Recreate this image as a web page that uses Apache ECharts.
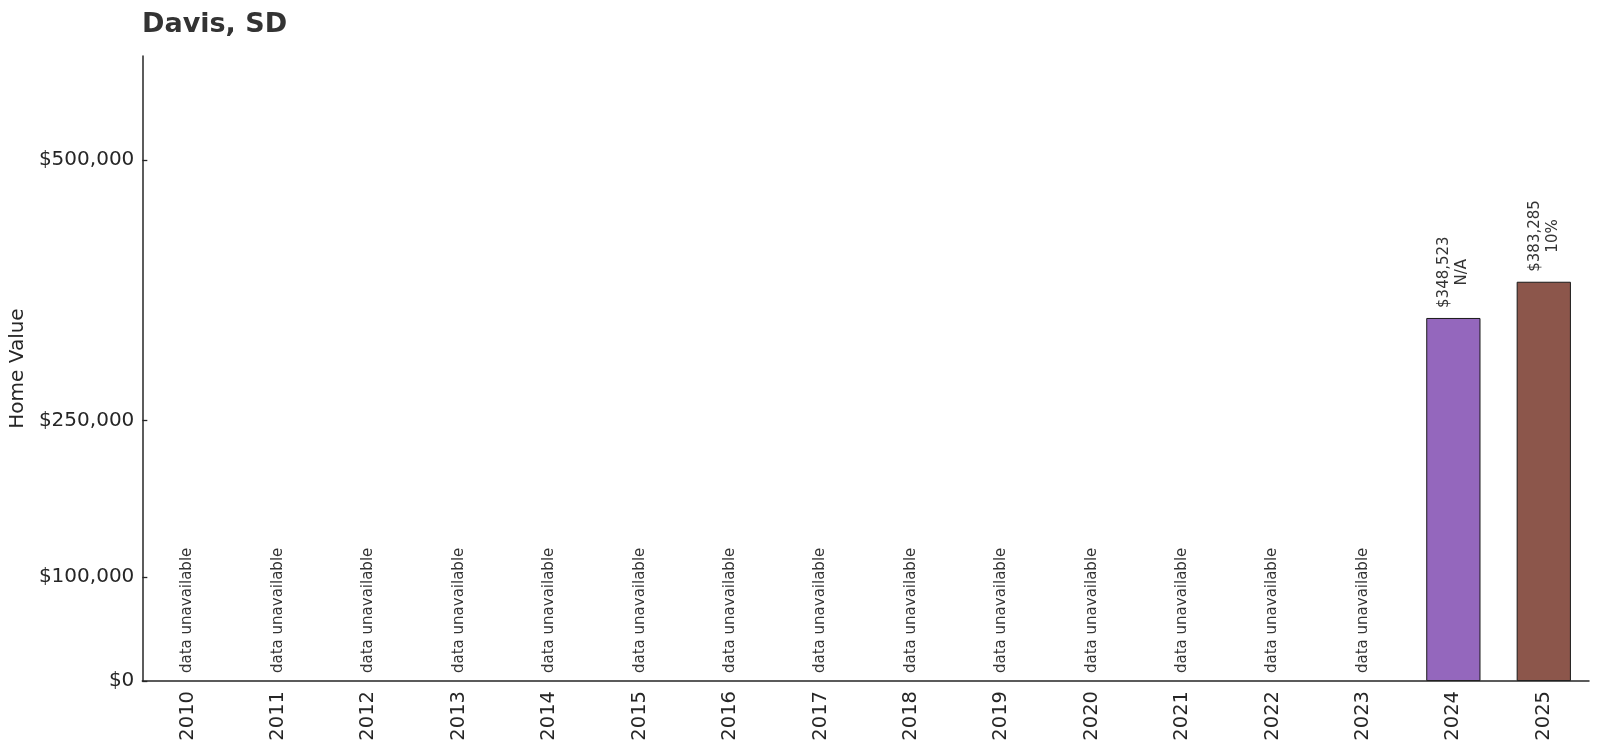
<!DOCTYPE html>
<html>
<head>
<meta charset="utf-8">
<script src="https://cdn.jsdelivr.net/npm/echarts@6/dist/echarts.min.js"></script>
<style>
  html, body { margin: 0; padding: 0; background: #fff; }
  #chart { width: 1600px; height: 750px; }
</style>
</head>
<body>
<div id="chart"></div>
<script>
// ── data ──
const years = ['2010', '2011', '2012', '2013', '2014', '2015', '2016', '2017',
  '2018', '2019', '2020', '2021', '2022', '2023', '2024', '2025'];
const homeValues = [null, null, null, null, null, null, null, null,
  null, null, null, null, null, null, 348523, 383285];
const changeLabels = [null, null, null, null, null, null, null, null,
  null, null, null, null, null, null, 'N/A', '10%'];
const barColors = [null, null, null, null, null, null, null, null,
  null, null, null, null, null, null, '#9467bd', '#8c564b'];
const yTicks = [0, 100000, 250000, 500000];

const FONT = 'DejaVu Sans';
const TEXT = '#262626';
const LABEL_SIZE = 15;

const money = v => '$' + v.toLocaleString('en-US');

// measure label width so the rotated, centred block sits just above the bar
const ctx = document.createElement('canvas').getContext('2d');
ctx.font = LABEL_SIZE + 'px "' + FONT + '"';
const textW = s => ctx.measureText(s).width;

const valueData = homeValues.map((v, i) => {
  if (v == null) return null;
  const lines = [money(v), changeLabels[i]];
  const w = Math.max(...lines.map(textW));
  return {
    value: v,
    itemStyle: { color: barColors[i] },
    label: { distance: 10 + w / 2 }
  };
});
const missingData = homeValues.map(v => v == null ? 0 : null);

const chart = echarts.init(document.getElementById('chart'));
chart.setOption({
  animation: false,
  title: {
    text: 'Davis, SD', left: 137, top: 6,
    textStyle: { fontFamily: FONT, fontSize: 27, fontWeight: 'bold', color: '#333' }
  },
  grid: { left: 141, right: 11, top: 56, bottom: 69 },
  xAxis: {
    type: 'category', data: years, z: 5,
    axisLine: { lineStyle: { color: TEXT, width: 1.5 } },
    axisTick: { alignWithLabel: true, inside: true, length: 6, lineStyle: { color: TEXT, width: 1.3 } },
    axisLabel: { rotate: 90, margin: 10, fontFamily: FONT, fontSize: 19.5, color: TEXT },
    splitLine: { show: false }
  },
  yAxis: {
    type: 'value', min: 0, max: 600000,
    name: 'Home Value', nameLocation: 'middle', nameGap: 109,
    nameTextStyle: { fontFamily: FONT, fontSize: 20, color: TEXT },
    axisLine: { show: true, lineStyle: { color: TEXT, width: 1.5 } },
    axisTick: { show: true, inside: true, length: 5, customValues: yTicks, lineStyle: { color: TEXT, width: 1.3 } },
    axisLabel: {
      customValues: yTicks, margin: 8, padding: [3, 0, 0, 0],
      fontFamily: FONT, fontSize: 20, color: TEXT, formatter: money
    },
    splitLine: { show: false }
  },
  series: [
    {
      name: 'Home Value', type: 'bar', data: valueData, barWidth: '60%', barGap: '-100%',
      itemStyle: { borderColor: '#1a1a1a', borderWidth: 1 },
      label: {
        show: true, position: 'top', rotate: 90, align: 'center', verticalAlign: 'middle',
        fontFamily: FONT, fontSize: LABEL_SIZE, lineHeight: 18, color: '#333',
        formatter: p => money(p.value) + '\n' + changeLabels[p.dataIndex]
      }
    },
    {
      name: 'missing', type: 'bar', data: missingData, barWidth: '60%', barGap: '-100%',
      itemStyle: { color: 'transparent', borderWidth: 0 },
      label: {
        show: true, position: 'top', distance: 8, rotate: 90, align: 'left', verticalAlign: 'middle',
        fontFamily: FONT, fontSize: LABEL_SIZE, color: '#333',
        formatter: 'data unavailable'
      }
    }
  ]
});
</script>
</body>
</html>
